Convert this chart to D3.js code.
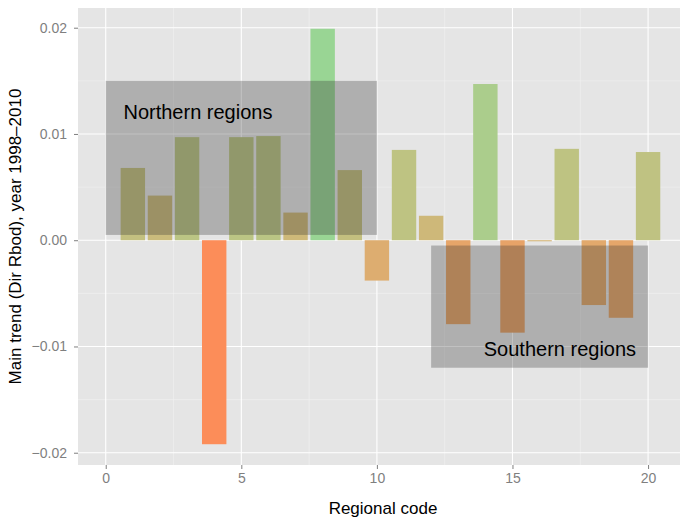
<!DOCTYPE html>
<html>
<head>
<meta charset="utf-8">
<script src="https://cdn.jsdelivr.net/npm/d3@7"></script>
<style>
  body { margin: 0; background: #fff; }
  text { font-family: "Liberation Sans", Arial, Helvetica, sans-serif; }
</style>
</head>
<body>
<div id="viz"></div>
<script>
// data
let codes = [1, 2, 3, 4, 5, 6, 7, 8, 9, 10, 11, 12, 13, 14, 15, 16, 17, 18, 19, 20];
let trend = [0.0068, 0.0042, 0.0097, -0.0192, 0.0097, 0.0098, 0.0026, 0.0199, 0.0066, -0.0038,
             0.0085, 0.0023, -0.0079, 0.0147, -0.0087, -0.0001, 0.0086, -0.0061, -0.0073, 0.0083];

let regionNames = ["Northern regions", "Southern regions"];
let regionX0 = [0, 12];
let regionX1 = [10, 20];
let regionY0 = [0.0005, -0.012];
let regionY1 = [0.015, -0.0005];
let labelX = [3.4, 16.75];
let labelY = [0.0121, -0.0102];

let xTicks = [0, 5, 10, 15, 20];
let xMinor = [2.5, 7.5, 12.5, 17.5];
let yTicks = [-0.02, -0.01, 0, 0.01, 0.02];
let yMinor = [-0.015, -0.005, 0.005, 0.015];
let yTickLabels = ["\u22120.02", "\u22120.01", "0.00", "0.01", "0.02"];

// global layout
let w = 680;
let h = 518;
let panelLeft = 78, panelTop = 8, panelBottom = 465, panelRight = 688;
let barWidth = 0.9;

let viz = d3.select("#viz")
  .append("svg")
    .attr("width", w)
    .attr("height", h)
;

// domains like ggplot: data range + 5%
let xLo = d3.min(regionX0.concat(codes.map(d => d - barWidth / 2)));
let xHi = d3.max(regionX1.concat(codes.map(d => d + barWidth / 2)));
let xPad = (xHi - xLo) * 0.05;
let yLo = d3.min(trend.concat(regionY0));
let yHi = d3.max(trend.concat(regionY1));
let yPad = (yHi - yLo) * 0.05;

let xScale = d3.scaleLinear().domain([xLo - xPad, xHi + xPad]).range([panelLeft, panelRight]);
let yScale = d3.scaleLinear().domain([yLo - yPad, yHi + yPad]).range([panelBottom, panelTop]);

let colorScale = d3.scaleLinear()
  .domain([d3.min(trend), d3.max(trend)])
  .range(["#FC8D59", "#99D594"])
  .interpolate(d3.interpolateLab);

// panel
viz.append("rect")
  .attr("x", panelLeft).attr("y", panelTop)
  .attr("width", panelRight - panelLeft).attr("height", panelBottom - panelTop)
  .attr("fill", "#E5E5E5");

// grid
viz.selectAll(".xminor").data(xMinor).enter().append("line")
  .attr("x1", d => xScale(d)).attr("x2", d => xScale(d))
  .attr("y1", panelTop).attr("y2", panelBottom)
  .attr("stroke", "#F2F2F2").attr("stroke-width", 0.6);
viz.selectAll(".yminor").data(yMinor).enter().append("line")
  .attr("y1", d => yScale(d)).attr("y2", d => yScale(d))
  .attr("x1", panelLeft).attr("x2", panelRight)
  .attr("stroke", "#F2F2F2").attr("stroke-width", 0.6);
viz.selectAll(".xmajor").data(xTicks).enter().append("line")
  .attr("x1", d => xScale(d)).attr("x2", d => xScale(d))
  .attr("y1", panelTop).attr("y2", panelBottom)
  .attr("stroke", "#fff").attr("stroke-width", 1.1);
viz.selectAll(".ymajor").data(yTicks).enter().append("line")
  .attr("y1", d => yScale(d)).attr("y2", d => yScale(d))
  .attr("x1", panelLeft).attr("x2", panelRight)
  .attr("stroke", "#fff").attr("stroke-width", 1.1);

// bars
viz.selectAll(".bar").data(codes).enter().append("rect")
  .attr("class", "bar")
  .attr("x", (d, i) => xScale(d - barWidth / 2))
  .attr("width", (d, i) => xScale(d + barWidth / 2) - xScale(d - barWidth / 2))
  .attr("y", (d, i) => yScale(Math.max(0, trend[i])))
  .attr("height", (d, i) => Math.abs(yScale(trend[i]) - yScale(0)))
  .attr("fill", (d, i) => colorScale(trend[i]));

// region boxes + labels
viz.selectAll(".region").data(regionNames).enter().append("rect")
  .attr("x", (d, i) => xScale(regionX0[i]))
  .attr("width", (d, i) => xScale(regionX1[i]) - xScale(regionX0[i]))
  .attr("y", (d, i) => yScale(regionY1[i]))
  .attr("height", (d, i) => yScale(regionY0[i]) - yScale(regionY1[i]))
  .attr("fill", "#333333")
  .attr("fill-opacity", 0.3);

viz.selectAll(".regionLabel").data(regionNames).enter().append("text")
  .text(d => d)
  .attr("x", (d, i) => xScale(labelX[i]))
  .attr("y", (d, i) => yScale(labelY[i]))
  .attr("dy", "0.35em")
  .attr("text-anchor", "middle")
  .style("font-size", "20px")
  .attr("fill", "#000");

// axes
let xAxis = d3.axisBottom(xScale).tickValues(xTicks).tickSize(4).tickPadding(4);
let yAxis = d3.axisLeft(yScale).tickValues(yTicks).tickSize(4).tickPadding(7)
  .tickFormat((d, i) => yTickLabels[i]);

let xg = viz.append("g").attr("transform", "translate(0," + panelBottom + ")").call(xAxis);
let yg = viz.append("g").attr("transform", "translate(" + panelLeft + ",0)").call(yAxis);
[xg, yg].forEach(function(g){
  g.select(".domain").remove();
  g.selectAll(".tick line").attr("stroke", "#7F7F7F");
  g.selectAll(".tick text").attr("fill", "#7F7F7F").style("font-size", "14px")
    .style("font-family", "'Liberation Sans', Arial, sans-serif");
});

// titles
viz.append("text")
  .text("Regional code")
  .attr("x", (panelLeft + panelRight) / 2)
  .attr("y", 514)
  .attr("text-anchor", "middle")
  .style("font-size", "17px");

viz.append("text")
  .text("Main trend (Dir Rbod), year 1998\u20132010")
  .attr("transform", "translate(21," + ((panelTop + panelBottom) / 2) + ") rotate(-90)")
  .attr("text-anchor", "middle")
  .style("font-size", "17px");
</script>
</body>
</html>
